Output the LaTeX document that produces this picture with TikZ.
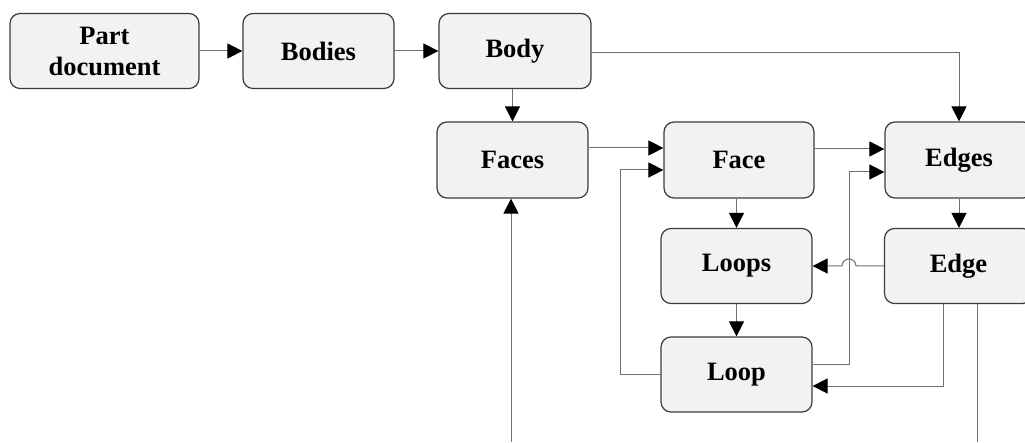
\documentclass[tikz,border=0pt]{standalone}
\usepackage{fontspec}
\setmainfont{Liberation Serif}
\usetikzlibrary{arrows.meta}
\definecolor{boxfill}{HTML}{F2F2F2}
\definecolor{boxline}{HTML}{3C3C3C}
\definecolor{connline}{HTML}{707070}
\begin{document}
\begin{tikzpicture}[x=1pt,y=1pt,
  box/.style={draw=boxline, line width=1.2pt, fill=boxfill, rounded corners=10pt,
    minimum width=151pt, minimum height=75pt, inner sep=2pt, align=center,
    font=\fontsize{26.5}{31}\selectfont\bfseries},
  conn/.style={draw=connline, line width=1pt, -{Triangle[length=15pt,width=15pt,color=black]}},
  plain/.style={draw=connline, line width=1pt}]
\clip (0,0) rectangle (1025,442);
\fill[white] (0,0) rectangle (1025,442);

\node[box, minimum width=189pt] (pd) at (104.5,391) {Part\\document};
\node[box] (bodies) at (318.5,391) {Bodies};
\node[box, minimum width=152pt] (body) at (515,391) {Body};
\node[box, minimum height=76pt] (faces) at (512.5,282) {Faces};
\node[box, minimum width=150pt, minimum height=76pt] (face) at (739,282) {Face};
\node[box, minimum width=148pt, minimum height=76pt] (edges) at (959,282) {Edges};
\node[box] (loops) at (736.5,176) {Loops};
\node[box, minimum width=148pt] (edge) at (958.5,176) {Edge};
\node[box] (loop) at (736.5,67.5) {Loop};

\coordinate (fin) at (511,0);
\coordinate (eout) at (977,0);

\draw[conn] (pd.east) -- (pd.east -| bodies.west);
\draw[conn] (bodies.east) -- (body.west);
\draw[conn] ([yshift=-1.5pt]body.east) -| (edges.north);
\draw[conn] (body.south -| faces.north) -- (faces.north);
\draw[conn] ([yshift=12pt]faces.east) -- ([yshift=12pt]faces.east -| face.west);
\draw[conn] (loop.west) -- ++(-40pt,0) |- ([yshift=-10pt]face.west);
\draw[conn] ([yshift=11pt]face.east) -- ([yshift=11pt]face.east -| edges.west);
\draw[conn] ([yshift=10.5pt]loop.east) -- ++(37pt,0) |- ([yshift=-12pt]edges.west);
\draw[conn] (loops.north |- face.south) -- (loops.north);
\draw[conn] (edges.south) -- (edges.south |- edge.north);
\draw[conn] (edge.west) -- (856,176) arc[start angle=0,end angle=180,radius=7pt] -- (loops.east);
\draw[conn] (loops.south) -- (loop.north);
\draw[conn] ([xshift=-15.5pt]edge.south) |- ([yshift=-11.5pt]loop.east);
\draw[plain] ([xshift=18.5pt]edge.south) -- (eout);
\draw[conn] (fin) -- (fin |- faces.south);
\end{tikzpicture}
\end{document}
